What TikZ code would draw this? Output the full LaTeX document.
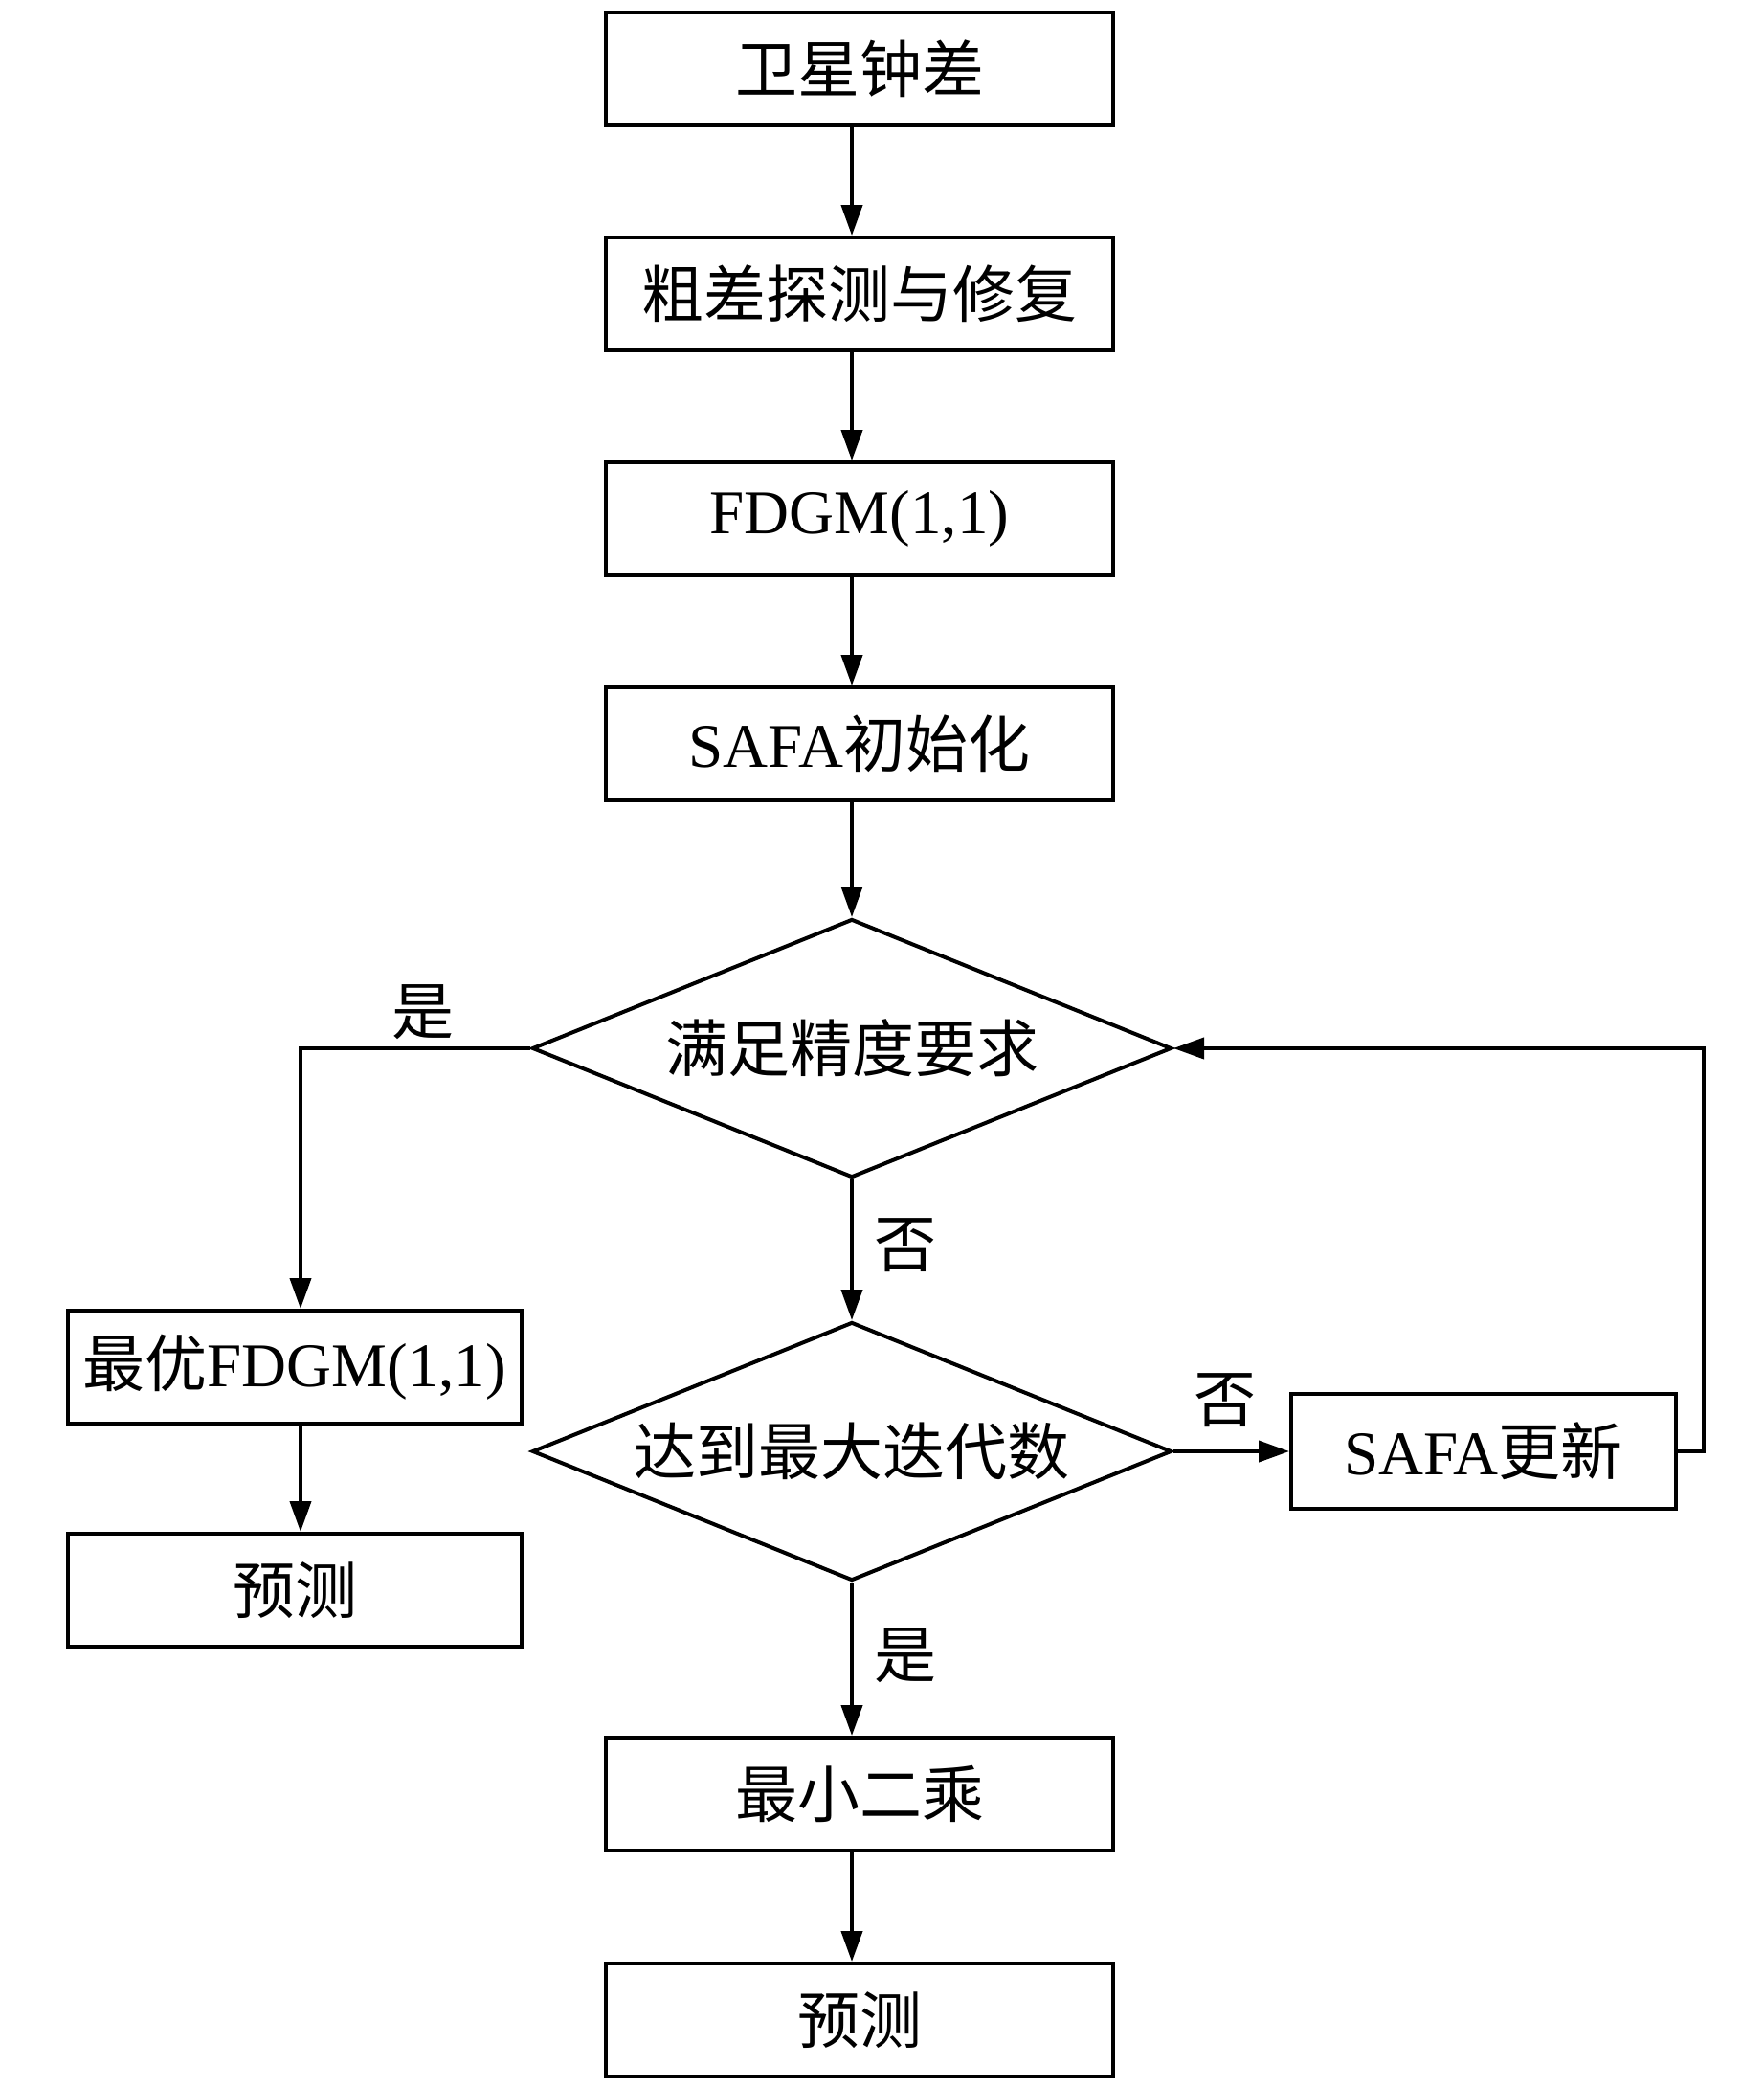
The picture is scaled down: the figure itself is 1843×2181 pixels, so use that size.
\documentclass[tikz,border=0pt]{standalone}
\usepackage{fontspec}
\setmainfont{Liberation Serif}
\newfontfamily\cjk{Noto Sans CJK SC}
\usetikzlibrary{shapes.geometric,arrows.meta}
\begin{document}
\begin{tikzpicture}[x=1pt,y=-1pt,
  every node/.style={font=\fontsize{65}{72}\selectfont},
  box/.style={draw,line width=4pt,rectangle,inner sep=0pt,minimum width=530pt,minimum height=118pt},
  dec/.style={draw,line width=4pt,diamond,shape aspect=2.47,inner sep=0pt,minimum width=668pt,minimum height=270pt},
  arr/.style={line width=4pt,-{Triangle[length=32pt,width=22pt]}},
  lbl/.style={inner sep=0pt}]
\useasboundingbox (0,0) rectangle (1843,2181);
\node[box] (b1) at (898,72) {\cjk 卫星钟差};
\node[box] (b2) at (898,307) {\cjk 粗差探测与修复};
\node[box] (b3) at (898,542) {FDGM(1,1)};
\node[box] (b4) at (898,777) {SAFA{\cjk 初始化}};
\node[dec] (d1) at (890,1095) {\cjk 满足精度要求};
\node[dec] (d2) at (890,1516) {\cjk 达到最大迭代数};
\node[box,minimum width=474pt] (opt) at (308,1428) {{\cjk 最优}FDGM(1,1)};
\node[box,minimum width=474pt] (p1) at (308,1661) {\cjk 预测};
\node[box,minimum width=402pt,minimum height=120pt] (upd) at (1550,1516) {SAFA{\cjk 更新}};
\node[box] (lsq) at (898,1874) {\cjk 最小二乘};
\node[box] (p2) at (898,2110) {\cjk 预测};
\coordinate (lp) at (1780,1516);
\coordinate (lx) at (314,0);
\draw[arr] (b1.south -| d1.north) -- (b2.north -| d1.north);
\draw[arr] (b2.south -| d1.north) -- (b3.north -| d1.north);
\draw[arr] (b3.south -| d1.north) -- (b4.north -| d1.north);
\draw[arr] (b4.south -| d1.north) -- (d1.north);
\draw[arr] (d1.west) -| (opt.north -| lx);
\draw[arr] (opt.south -| lx) -- (p1.north -| lx);
\draw[arr] (d1.south) -- (d2.north);
\draw[arr] (d2.east) -- (upd.west);
\draw[arr] (upd.east) -- (lp) |- (d1.east);
\draw[arr] (d2.south) -- (lsq.north -| d2.south);
\draw[arr] (lsq.south -| d2.south) -- (p2.north -| d2.south);
\node[lbl] (y1) at (442,1057) {\cjk 是};
\node[lbl] (n1) at (946,1301) {\cjk 否};
\node[lbl] (n2) at (1280,1463) {\cjk 否};
\node[lbl] (y2) at (946,1729) {\cjk 是};
\end{tikzpicture}
\end{document}
